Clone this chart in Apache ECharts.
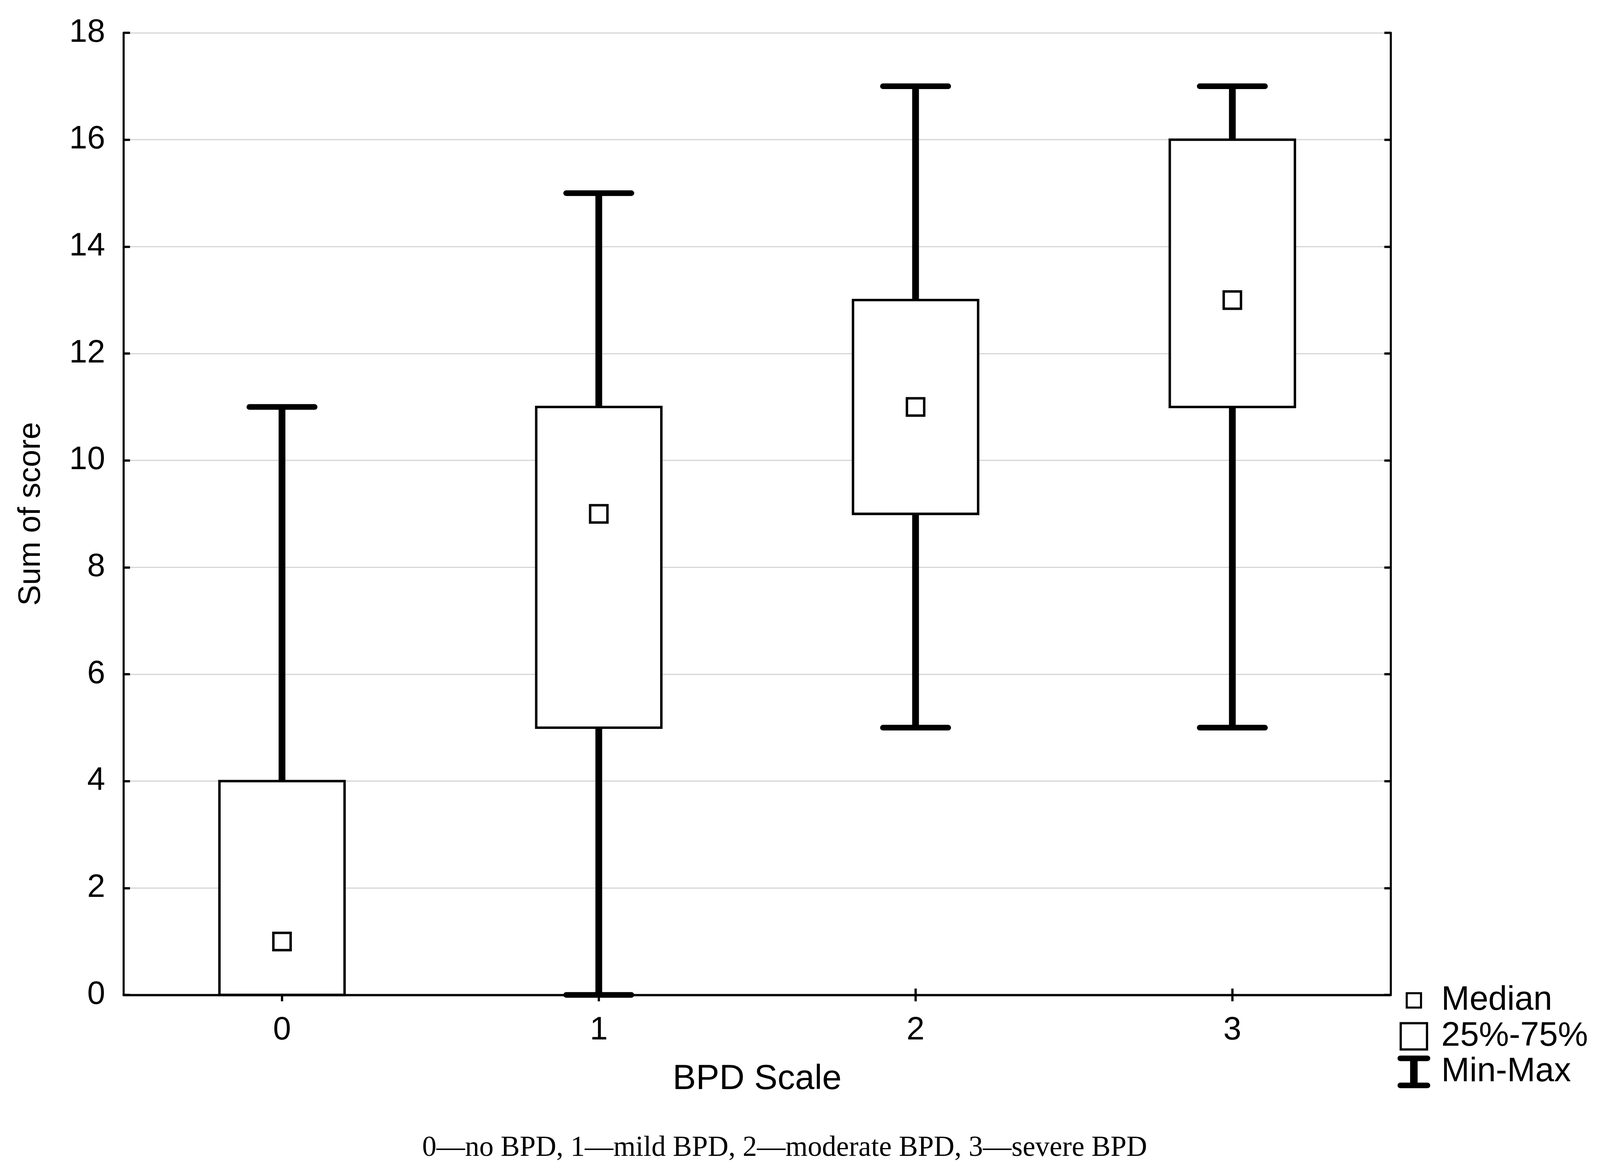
<!DOCTYPE html>
<html>
<head>
<meta charset="utf-8">
<script src="https://cdn.jsdelivr.net/npm/echarts@6/dist/echarts.min.js"></script>
<style>
  html, body { margin: 0; padding: 0; background: #fff; overflow: hidden; }
  #chart { width: 100vw; height: 100vh; }
</style>
</head>
<body>
<div id="chart"></div>
<script>
// ---- data ----
var categories = ['0', '1', '2', '3'];
var mins    = [0, 0, 5, 5];
var q1s     = [0, 5, 9, 11];
var medians = [1, 9, 11, 13];
var q3s     = [4, 11, 13, 16];
var maxs    = [11, 15, 17, 17];
var yTicks  = { min: 0, max: 18, interval: 2 };
var legendLabels = ['Median', '25%-75%', 'Min-Max'];
var xName = 'BPD Scale';
var yName = 'Sum of score';
var caption = '0\u2014no BPD, 1\u2014mild BPD, 2\u2014moderate BPD, 3\u2014severe BPD';

var boxData = categories.map(function (c, i) {
  return [i, mins[i], q1s[i], medians[i], q3s[i], maxs[i]];
});

// ---- layout scaling (design size 4427 x 3008) ----
var el = document.getElementById('chart');
var W = el.clientWidth || window.innerWidth || 4427;
var H = el.clientHeight || window.innerHeight || 3008;
var sx = W / 4427, sy = H / 3008, s = Math.sqrt(sx * sy);
function X(v) { return v * sx; }
function Y(v) { return v * sy; }
function S(v) { return v * s; }

var SANS = '"Liberation Sans", Arial, Helvetica, sans-serif';
var SERIF = '"Liberation Serif", "Times New Roman", serif';

var chart = echarts.init(el, null, { renderer: 'canvas' });

function renderBox(params, api) {
  var i = api.value(0);
  var mn = api.value(1), q1 = api.value(2), md = api.value(3), q3 = api.value(4), mx = api.value(5);
  var band = api.size([1, 0])[0];
  var x = api.coord([i, md])[0];
  var yMn = api.coord([i, mn])[1];
  var yQ1 = api.coord([i, q1])[1];
  var yMd = api.coord([i, md])[1];
  var yQ3 = api.coord([i, q3])[1];
  var yMx = api.coord([i, mx])[1];
  var capHalf = band * 0.103;
  var boxHalf = band * 0.1975;
  var med = S(23);
  var children = [];
  var stemStyle = { stroke: '#000', lineWidth: S(18), lineCap: 'butt' };
  var capStyle = { stroke: '#000', lineWidth: S(15), lineCap: 'round' };
  if (mx > q3) {
    children.push({ type: 'line', shape: { x1: x, y1: yQ3, x2: x, y2: yMx }, style: stemStyle });
    children.push({ type: 'line', shape: { x1: x - capHalf, y1: yMx, x2: x + capHalf, y2: yMx }, style: capStyle });
  }
  if (mn < q1) {
    children.push({ type: 'line', shape: { x1: x, y1: yQ1, x2: x, y2: yMn }, style: stemStyle });
    children.push({ type: 'line', shape: { x1: x - capHalf, y1: yMn, x2: x + capHalf, y2: yMn }, style: capStyle });
  }
  children.push({
    type: 'rect',
    shape: { x: x - boxHalf, y: yQ3, width: boxHalf * 2, height: yQ1 - yQ3 },
    style: { fill: '#fff', stroke: '#000', lineWidth: S(6.5) }
  });
  children.push({
    type: 'rect',
    shape: { x: x - med, y: yMd - med, width: med * 2, height: med * 2 },
    style: { fill: '#fff', stroke: '#000', lineWidth: S(6.5) }
  });
  return { type: 'group', children: children };
}

var axisLine = { show: true, lineStyle: { color: '#000', width: S(5.5) } };
var axisTick = { show: true, inside: true, length: S(17), lineStyle: { color: '#000', width: S(6) } };

// legend (graphic elements) + caption
var LX = X(3912), LT = X(3988);
var rowY = [Y(2561), Y(2653), Y(2744)];
var g = [
  { type: 'rect', shape: { x: LX - S(19), y: rowY[0] - S(19), width: S(38), height: S(38) },
    style: { fill: '#fff', stroke: '#000', lineWidth: S(5.5) } },
  { type: 'rect', shape: { x: LX - S(35), y: rowY[1] - S(35), width: S(70), height: S(70) },
    style: { fill: '#fff', stroke: '#000', lineWidth: S(6) } },
  { type: 'line', shape: { x1: LX, y1: rowY[2] - S(36), x2: LX, y2: rowY[2] + S(36) },
    style: { stroke: '#000', lineWidth: S(20) } },
  { type: 'line', shape: { x1: LX - S(36), y1: rowY[2] - S(36), x2: LX + S(36), y2: rowY[2] - S(36) },
    style: { stroke: '#000', lineWidth: S(15), lineCap: 'round' } },
  { type: 'line', shape: { x1: LX - S(36), y1: rowY[2] + S(36), x2: LX + S(36), y2: rowY[2] + S(36) },
    style: { stroke: '#000', lineWidth: S(15), lineCap: 'round' } }
];
legendLabels.forEach(function (t, k) {
  g.push({
    type: 'text', x: LT, y: rowY[k],
    style: { text: t, fill: '#000', font: S(90) + 'px ' + SANS, textAlign: 'left', textVerticalAlign: 'middle' }
  });
});
g.push({
  type: 'text', x: X(2171), y: Y(2940),
  style: { text: caption, fill: '#000', font: S(76) + 'px ' + SERIF, textAlign: 'center', textVerticalAlign: 'middle' }
});

var option = {
  backgroundColor: '#fff',
  animation: false,
  grid: { left: X(342), right: X(579), top: Y(84), bottom: Y(461), containLabel: false },
  xAxis: [
    {
      type: 'category', data: categories, position: 'bottom', boundaryGap: true,
      axisLine: axisLine, axisTick: Object.assign({ alignWithLabel: true }, axisTick),
      axisLabel: { color: '#000', fontSize: S(86), fontFamily: SANS, margin: Y(50) },
      splitLine: { show: false },
      name: xName, nameLocation: 'middle', nameGap: Y(172),
      nameTextStyle: { color: '#000', fontSize: S(93), fontFamily: SANS }
    },
    {
      type: 'category', data: categories, position: 'top', boundaryGap: true,
      axisLine: axisLine, axisTick: Object.assign({ alignWithLabel: true }, axisTick),
      axisLabel: { show: false }, splitLine: { show: false }
    }
  ],
  yAxis: [
    {
      type: 'value', min: yTicks.min, max: yTicks.max, interval: yTicks.interval, position: 'left',
      axisLine: axisLine, axisTick: axisTick,
      axisLabel: { color: '#000', fontSize: S(86), fontFamily: SANS, margin: X(51) },
      splitLine: { show: true, lineStyle: { color: '#d6d6d6', width: S(3) } },
      name: yName, nameLocation: 'middle', nameGap: X(212), nameRotate: 90,
      nameTextStyle: { color: '#000', fontSize: S(83), fontFamily: SANS }
    },
    {
      type: 'value', min: yTicks.min, max: yTicks.max, interval: yTicks.interval, position: 'right',
      axisLine: axisLine, axisTick: axisTick,
      axisLabel: { show: false }, splitLine: { show: false }
    }
  ],
  series: [
    {
      type: 'custom', name: 'Box', xAxisIndex: 0, yAxisIndex: 0,
      renderItem: renderBox, clip: false, z: 5,
      encode: { x: 0, y: [1, 2, 3, 4, 5] },
      data: boxData
    }
  ],
  graphic: g
};
chart.setOption(option);
</script>
</body>
</html>
